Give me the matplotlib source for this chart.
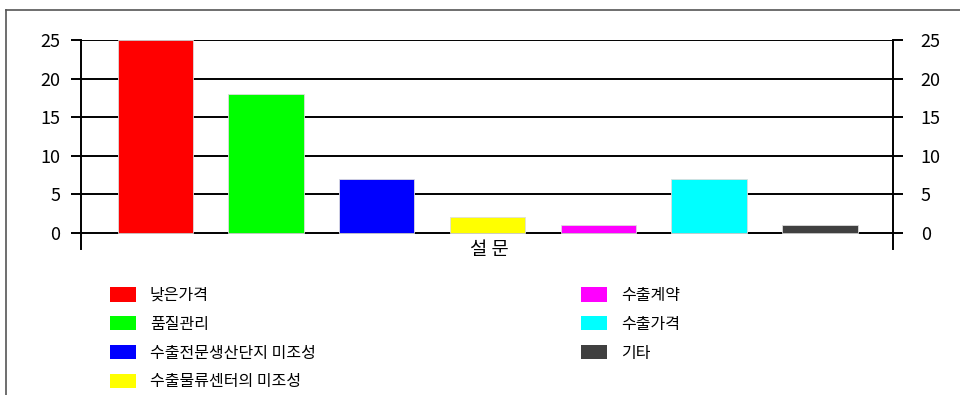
import matplotlib
matplotlib.use("Agg")
import matplotlib.pyplot as plt
from matplotlib.patches import Patch
from matplotlib.lines import Line2D

plt.rcParams['font.family'] = ['Noto Sans CJK KR', 'DejaVu Sans']

# --- data ---
categories = ['낮은가격', '품질관리', '수출전문생산단지 미조성', '수출물류센터의 미조성',
              '수출계약', '수출가격', '기타']
values = [25, 18, 7, 2, 1, 7, 1]
colors = ['#FF0000', '#00FF00', '#0000FF', '#FFFF00', '#FF00FF', '#00FFFF', '#404040']
yticks = [0, 5, 10, 15, 20, 25]
xlabel = '설 문'

fig = plt.figure(figsize=(9.6, 3.95), dpi=100)

# outer frame (top and left edges visible)
fig.add_artist(Line2D([6/960, 1], [1 - 10/395, 1 - 10/395], transform=fig.transFigure,
                      color='#555555', lw=1.2))
fig.add_artist(Line2D([6/960, 6/960], [0, 1 - 10/395], transform=fig.transFigure,
                      color='#555555', lw=1.2))

ax = fig.add_axes([81/960, 1 - 249/395, 812/960, 209/395])
x = list(range(len(values)))
ax.bar(x, values, width=0.68, color=colors, edgecolor='#dddddd', linewidth=0.6, zorder=3)
ax.set_xlim(-0.67, 6.66)
ax.set_ylim(-2.1, 25)
ax.set_yticks(yticks)
ax.set_xticks([])
for v in yticks:
    ax.axhline(v, color='black', lw=1.4, zorder=1)

for s in ['top', 'bottom']:
    ax.spines[s].set_visible(False)
for s in ['left', 'right']:
    ax.spines[s].set_linewidth(1.4)
    ax.spines[s].set_bounds(-2.1, 25)
ax.tick_params(axis='y', direction='out', length=7, width=1.4, labelsize=13, pad=8)

# right-hand axis with the same scale
ax2 = ax.twinx()
ax2.set_ylim(ax.get_ylim())
ax2.set_yticks(yticks)
for s in ax2.spines.values():
    s.set_visible(False)
ax2.tick_params(axis='y', direction='out', length=7, width=1.4, labelsize=13, pad=13)

fig.text(489/960, 1 - 250/395, xlabel, ha='center', va='center', fontsize=13.5)

handles = [Patch(facecolor=c, edgecolor='none') for c in colors]
fig.legend(handles, categories, loc='upper left', bbox_to_anchor=(110/960, 1 - 287/395),
           ncol=2, frameon=False, fontsize=11.5, handlelength=1.6, handleheight=1.0,
           handletextpad=0.9, labelspacing=0.74, columnspacing=16.6, borderaxespad=0,
           borderpad=0)

fig.savefig('out.png', dpi=100)
